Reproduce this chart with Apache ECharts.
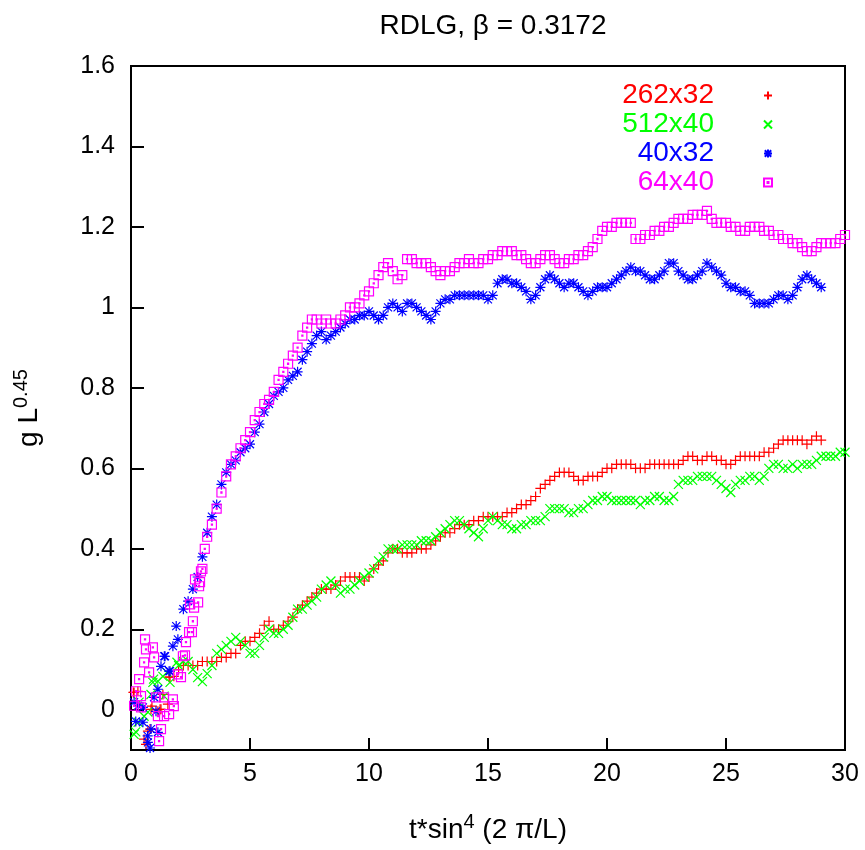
<!DOCTYPE html>
<html>
<head>
<meta charset="utf-8">
<script src="https://cdn.jsdelivr.net/npm/echarts@6/dist/echarts.min.js"></script>
<style>html,body{margin:0;padding:0;background:#fff}#c{width:865px;height:850px}</style>
</head>
<body>
<div id="c"></div>
<script>
// Series names (legend)
const seriesNames = ['262x32', '512x40', '40x32', '64x40'];

// Y tick labels / X tick labels
const yTicks = [0, 0.2, 0.4, 0.6, 0.8, 1, 1.2, 1.4, 1.6];
const xTicks = [0, 5, 10, 15, 20, 25, 30];

// 262x32 (red +) : [t, g L^0.45]
const red262x32 = [
[0.1,0.043],[0.13,0.043],[0.29,0.046],[0.55,-0.073],[0.63,-0.086],[0.71,-0.053],[0.8,-0.048],[0.84,0.001],[0.88,0.009],[1.13,-0.004],[1.22,0.001],[1.26,0.001],[1.34,0.038],[1.55,0.014],[1.6,0.081],[1.64,0.081],[1.8,0.083],
[2.0,0.10],[2.2,0.11],[2.4,0.11],[2.6,0.11],[2.8,0.11],[3.0,0.12],[3.2,0.12],[3.4,0.12],[3.6,0.12],[3.8,0.13],
[4.0,0.13],[4.2,0.14],[4.4,0.14],[4.6,0.16],[4.8,0.17],[5.0,0.17],[5.2,0.18],[5.4,0.19],[5.6,0.21],[5.8,0.22],
[6.0,0.20],[6.2,0.20],[6.4,0.21],[6.6,0.22],[6.8,0.23],[7.0,0.25],[7.2,0.26],[7.4,0.27],[7.6,0.28],[7.8,0.29],
[8.0,0.30],[8.2,0.30],[8.4,0.30],[8.6,0.31],[8.8,0.32],[9.0,0.33],[9.2,0.33],[9.4,0.33],[9.6,0.33],[9.8,0.32],
[10.0,0.33],[10.2,0.35],[10.4,0.36],[10.6,0.37],[10.8,0.39],[11.0,0.40],[11.2,0.40],[11.4,0.39],[11.6,0.39],[11.8,0.39],
[12.0,0.40],[12.2,0.40],[12.4,0.40],[12.6,0.41],[12.8,0.42],[13.0,0.43],[13.2,0.44],[13.4,0.44],[13.6,0.45],[13.8,0.46],
[14.0,0.46],[14.2,0.46],[14.4,0.47],[14.6,0.47],[14.8,0.48],[15.0,0.48],[15.2,0.48],[15.4,0.48],[15.6,0.48],[15.8,0.49],
[16.0,0.49],[16.2,0.50],[16.4,0.51],[16.6,0.51],[16.8,0.52],[17.0,0.53],[17.2,0.55],[17.4,0.56],[17.6,0.57],[17.8,0.58],
[18.0,0.59],[18.2,0.59],[18.4,0.59],[18.6,0.58],[18.8,0.57],[19.0,0.57],[19.2,0.58],[19.4,0.58],[19.6,0.58],[19.8,0.59],
[20.0,0.60],[20.2,0.60],[20.4,0.61],[20.6,0.61],[20.8,0.61],[21.0,0.61],[21.2,0.60],[21.4,0.60],[21.6,0.60],[21.8,0.61],
[22.0,0.61],[22.2,0.61],[22.4,0.61],[22.6,0.61],[22.8,0.61],[23.0,0.61],[23.2,0.62],[23.4,0.63],[23.6,0.63],[23.8,0.62],
[24.0,0.62],[24.2,0.63],[24.4,0.63],[24.6,0.62],[24.8,0.62],[25.0,0.61],[25.2,0.61],[25.4,0.62],[25.6,0.63],[25.8,0.63],
[26.0,0.63],[26.2,0.63],[26.4,0.63],[26.6,0.64],[26.8,0.64],[27.0,0.65],[27.2,0.66],[27.4,0.67],[27.6,0.67],[27.8,0.67],
[28.0,0.67],[28.2,0.67],[28.4,0.66],[28.6,0.67],[28.8,0.68],[29.0,0.67]
];

// 512x40 (green x)
const green512x40 = [
[0.13,-0.061],[0.2,-0.055],[0.3,-0.031],[0.34,0.019],[0.55,-0.016],[0.71,-0.006],[0.84,0.038],[0.92,0.068],[0.95,0.076],[1.13,0.071],[1.34,0.083],[1.39,0.034],[1.51,0.093],[1.64,0.068],[1.93,0.118],
[2.0,0.11],[2.2,0.12],[2.4,0.12],[2.6,0.10],[2.8,0.08],[3.0,0.07],[3.2,0.09],[3.4,0.11],[3.6,0.14],[3.8,0.15],
[4.0,0.16],[4.2,0.17],[4.4,0.18],[4.6,0.17],[4.8,0.16],[5.0,0.14],[5.2,0.14],[5.4,0.16],[5.6,0.18],[5.8,0.20],
[6.0,0.19],[6.2,0.19],[6.4,0.20],[6.6,0.21],[6.8,0.23],[7.0,0.25],[7.2,0.25],[7.4,0.26],[7.6,0.27],[7.8,0.28],
[8.0,0.30],[8.2,0.31],[8.4,0.32],[8.6,0.31],[8.8,0.29],[9.0,0.30],[9.2,0.30],[9.4,0.31],[9.6,0.32],[9.8,0.33],
[10.0,0.34],[10.2,0.35],[10.4,0.37],[10.6,0.38],[10.8,0.40],[11.0,0.40],[11.2,0.40],[11.4,0.41],[11.6,0.41],[11.8,0.41],
[12.0,0.41],[12.2,0.42],[12.4,0.42],[12.6,0.42],[12.8,0.43],[13.0,0.44],[13.2,0.45],[13.4,0.46],[13.6,0.47],[13.8,0.47],
[14.0,0.46],[14.2,0.45],[14.4,0.44],[14.6,0.43],[14.8,0.45],[15.0,0.47],[15.2,0.48],[15.4,0.47],[15.6,0.46],[15.8,0.46],
[16.0,0.45],[16.2,0.45],[16.4,0.46],[16.6,0.46],[16.8,0.47],[17.0,0.47],[17.2,0.47],[17.4,0.48],[17.6,0.50],[17.8,0.50],
[18.0,0.50],[18.2,0.50],[18.4,0.49],[18.6,0.49],[18.8,0.50],[19.0,0.50],[19.2,0.51],[19.4,0.52],[19.6,0.52],[19.8,0.53],
[20.0,0.53],[20.2,0.52],[20.4,0.52],[20.6,0.52],[20.8,0.52],[21.0,0.52],[21.2,0.52],[21.4,0.51],[21.6,0.52],[21.8,0.52],
[22.0,0.53],[22.2,0.53],[22.4,0.52],[22.6,0.52],[22.8,0.53],[23.0,0.56],[23.2,0.57],[23.4,0.57],[23.6,0.57],[23.8,0.58],
[24.0,0.58],[24.2,0.58],[24.4,0.58],[24.6,0.57],[24.8,0.56],[25.0,0.55],[25.2,0.54],[25.4,0.56],[25.6,0.57],[25.8,0.57],
[26.0,0.58],[26.2,0.58],[26.4,0.57],[26.6,0.58],[26.8,0.60],[27.0,0.61],[27.2,0.61],[27.4,0.60],[27.6,0.60],[27.8,0.61],
[28.0,0.60],[28.2,0.61],[28.4,0.61],[28.6,0.61],[28.8,0.62],[29.0,0.63],[29.2,0.63],[29.4,0.63],[29.6,0.63],[29.8,0.64],
[30.0,0.64]
];

// 40x32 (blue *)
const blue40x32 = [
[0.13,0.019],[0.2,-0.029],[0.3,0.01],[0.5,0.006],[0.5,-0.031],[0.7,-0.065],[0.71,-0.081],[0.8,-0.095],[0.84,-0.048],[0.97,0.031],[1.05,-0.004],[1.13,0.051],[1.13,-0.056],[1.26,0.108],[1.4,0.133],[1.43,0.133],[1.6,0.096],[1.64,0.096],[1.76,0.158],[1.9,0.208],[1.97,0.175],
[2.2,0.25],[2.4,0.27],[2.6,0.30],[2.8,0.33],[3.0,0.38],[3.2,0.44],[3.4,0.48],[3.6,0.51],[3.8,0.56],
[4.0,0.59],[4.2,0.61],[4.4,0.62],[4.6,0.64],[4.8,0.65],[5.0,0.66],[5.2,0.69],[5.4,0.71],[5.6,0.74],[5.8,0.76],
[6.0,0.78],[6.2,0.79],[6.4,0.80],[6.6,0.82],[6.8,0.83],[7.0,0.84],[7.2,0.87],[7.4,0.89],[7.6,0.91],[7.8,0.93],
[8.0,0.94],[8.2,0.92],[8.4,0.93],[8.6,0.94],[8.8,0.95],[9.0,0.96],[9.2,0.97],[9.4,0.97],[9.6,0.98],[9.8,0.98],
[10.0,0.99],[10.2,0.98],[10.4,0.97],[10.6,0.98],[10.8,1.00],[11.0,1.01],[11.2,1.00],[11.4,0.99],[11.6,1.01],[11.8,1.01],
[12.0,1.00],[12.2,0.99],[12.4,0.98],[12.6,0.97],[12.8,0.99],[13.0,1.01],[13.2,1.02],[13.4,1.02],[13.6,1.03],[13.8,1.03],
[14.0,1.03],[14.2,1.03],[14.4,1.03],[14.6,1.03],[14.8,1.03],[15.0,1.02],[15.2,1.03],[15.4,1.06],[15.6,1.07],[15.8,1.07],
[16.0,1.06],[16.2,1.06],[16.4,1.05],[16.6,1.04],[16.8,1.02],[17.0,1.03],[17.2,1.05],[17.4,1.07],[17.6,1.08],[17.8,1.07],
[18.0,1.06],[18.2,1.05],[18.4,1.06],[18.6,1.06],[18.8,1.05],[19.0,1.04],[19.2,1.03],[19.4,1.04],[19.6,1.05],[19.8,1.05],
[20.0,1.05],[20.2,1.06],[20.4,1.07],[20.6,1.08],[20.8,1.09],[21.0,1.10],[21.2,1.09],[21.4,1.09],[21.6,1.08],[21.8,1.07],
[22.0,1.07],[22.2,1.08],[22.4,1.09],[22.6,1.11],[22.8,1.11],[23.0,1.09],[23.2,1.08],[23.4,1.07],[23.6,1.07],[23.8,1.08],
[24.0,1.09],[24.2,1.11],[24.4,1.10],[24.6,1.09],[24.8,1.08],[25.0,1.06],[25.2,1.05],[25.4,1.05],[25.6,1.04],[25.8,1.04],
[26.0,1.03],[26.2,1.01],[26.4,1.01],[26.6,1.01],[26.8,1.01],[27.0,1.02],[27.2,1.03],[27.4,1.03],[27.6,1.02],[27.8,1.03],
[28.0,1.05],[28.2,1.07],[28.4,1.08],[28.6,1.07],[28.8,1.06],[29.0,1.05]
];

// 64x40 (magenta boxes)
const magenta64x40 = [
[0.13,0.01],[0.21,0.046],[0.34,0.076],[0.42,0.034],[0.42,0.006],[0.55,0.118],[0.59,0.175],[0.63,0.15],[0.76,0.093],[0.92,0.155],[0.97,0.13],[1.05,0.031],[1.13,-0.016],[1.18,-0.078],[1.26,-0.048],[1.39,0.031],[1.39,-0.016],[1.6,-0.011],[1.76,0.026],[1.8,0.009],[1.97,0.088],[2.1,0.081],[2.18,0.133],[2.27,0.135],[2.31,0.168],[2.44,0.193],[2.48,0.262],[2.56,0.193],[2.6,0.22],[2.65,0.254],[2.69,0.324],[2.82,0.267],[2.86,0.307],[2.9,0.317],[2.94,0.344],
[3.0,0.35],[3.1,0.40],[3.2,0.43],[3.4,0.46],[3.6,0.50],[3.8,0.54],
[4.0,0.58],[4.2,0.61],[4.4,0.63],[4.6,0.65],[4.8,0.67],[5.0,0.69],[5.2,0.72],[5.4,0.74],[5.6,0.76],[5.8,0.77],
[6.0,0.79],[6.2,0.82],[6.4,0.84],[6.6,0.86],[6.8,0.88],[7.0,0.90],[7.2,0.93],[7.4,0.95],[7.6,0.97],[7.8,0.97],
[8.0,0.96],[8.2,0.97],[8.4,0.96],[8.6,0.96],[8.8,0.97],[9.0,0.98],[9.2,1.00],[9.4,1.00],[9.6,1.01],[9.8,1.03],
[10.0,1.04],[10.2,1.06],[10.4,1.08],[10.6,1.10],[10.8,1.11],[11.0,1.09],[11.2,1.07],[11.4,1.08],[11.6,1.12],[11.8,1.12],
[12.0,1.11],[12.2,1.11],[12.4,1.11],[12.6,1.10],[12.8,1.09],[13.0,1.08],[13.2,1.09],[13.4,1.09],[13.6,1.10],[13.8,1.11],
[14.0,1.11],[14.2,1.12],[14.4,1.11],[14.6,1.11],[14.8,1.12],[15.0,1.12],[15.2,1.13],[15.4,1.13],[15.6,1.14],[15.8,1.14],
[16.0,1.14],[16.2,1.13],[16.4,1.13],[16.6,1.12],[16.8,1.11],[17.0,1.11],[17.2,1.12],[17.4,1.13],[17.6,1.13],[17.8,1.12],
[18.0,1.11],[18.2,1.11],[18.4,1.12],[18.6,1.12],[18.8,1.13],[19.0,1.13],[19.2,1.14],[19.4,1.15],[19.6,1.17],[19.8,1.19],
[20.0,1.20],[20.2,1.20],[20.4,1.21],[20.6,1.21],[20.8,1.21],[21.0,1.21],[21.2,1.17],[21.4,1.17],[21.6,1.18],[21.8,1.18],
[22.0,1.19],[22.2,1.19],[22.4,1.20],[22.6,1.20],[22.8,1.21],[23.0,1.22],[23.2,1.22],[23.4,1.22],[23.6,1.23],[23.8,1.23],
[24.0,1.23],[24.2,1.24],[24.4,1.22],[24.6,1.21],[24.8,1.21],[25.0,1.21],[25.2,1.20],[25.4,1.20],[25.6,1.19],[25.8,1.19],
[26.0,1.20],[26.2,1.20],[26.4,1.20],[26.6,1.19],[26.8,1.19],[27.0,1.18],[27.2,1.18],[27.4,1.17],[27.6,1.17],[27.8,1.16],
[28.0,1.16],[28.2,1.15],[28.4,1.14],[28.6,1.14],[28.8,1.15],[29.0,1.16],[29.2,1.16],[29.4,1.16],[29.6,1.16],[29.8,1.17],
[30.0,1.18]
];

const FONT = 'Liberation Sans, Arial, Helvetica, sans-serif';
const FS = 25;
const FS_BIG = 28;

const symPlus = 'path://M-1,0L1,0M0,-1L0,1';
const symCross = 'path://M-1,-1L1,1M-1,1L1,-1';
const symStar = 'path://M-1,0L1,0M0,-1L0,1M-0.8,-0.8L0.8,0.8M-0.8,0.8L0.8,-0.8';
const symBox = 'path://M-1,-1L1,-1L1,1L-1,1ZM-0.12,-0.12L0.12,-0.12L0.12,0.12L-0.12,0.12Z';

const colors = ['#ff0000', '#00ff00', '#0000ff', '#ff00ff'];
const symbols = [symPlus, symCross, symStar, symBox];
const dataSets = [red262x32, green512x40, blue40x32, magenta64x40];
const sizes = [10, 9, 10, 9];

const chart = echarts.init(document.getElementById('c'), null, {renderer: 'canvas'});

const series = seriesNames.map((n, i) => ({
  name: n,
  type: 'scatter',
  data: dataSets[i],
  symbol: symbols[i],
  symbolSize: sizes[i],
  silent: true,
  itemStyle: {color: 'rgba(0,0,0,0)', borderColor: colors[i], borderWidth: 1.2, opacity: 1},
  emphasis: {disabled: true},
  z: 2 + i
}));

chart.setOption({
  animation: false,
  backgroundColor: '#fff',
  title: {
    text: 'RDLG, β = 0.3172',
    left: 488,
    textAlign: 'center',
    top: 7,
    textStyle: {fontFamily: FONT, fontSize: FS_BIG, fontWeight: 'normal', color: '#000'}
  },
  legend: {
    orient: 'vertical',
    align: 'right',
    right: 87,
    top: 76,
    itemWidth: 8,
    itemHeight: 8,
    itemGap: 0,
    selectedMode: false,
    data: seriesNames.map((n, i) => ({name: n, textStyle: {color: colors[i]}})),
    textStyle: {fontFamily: FONT, fontSize: FS_BIG, lineHeight: 29, padding: [0, 45, 0, 0]}
  },
  grid: {left: 131, right: 20, top: 66, bottom: 100, show: true, borderColor: '#000', borderWidth: 2, containLabel: false, outerBoundsMode: 'none'},
  xAxis: {
    type: 'value',
    min: 0, max: 30, interval: 5,
    name: '{a|t*sin}{s|4}{a| (2 π/L)}',
    nameLocation: 'middle',
    nameGap: 62,
    nameTextStyle: {
      fontFamily: FONT, color: '#000',
      rich: {
        a: {fontFamily: FONT, fontSize: FS_BIG, color: '#000'},
        s: {fontFamily: FONT, fontSize: 20, color: '#000', padding: [0, 0, 16, 0]}
      }
    },
    axisLine: {show: true, onZero: false, lineStyle: {color: '#000', width: 2}},
    axisTick: {show: true, inside: true, length: 12, lineStyle: {color: '#000', width: 2}},
    axisLabel: {fontFamily: FONT, fontSize: FS, color: '#000', margin: 12},
    splitLine: {show: false}
  },
  yAxis: {
    type: 'value',
    min: -0.1, max: 1.6,
    name: '{a|g L}{s|0.45}',
    nameLocation: 'middle',
    nameGap: 84,
    nameRotate: 90,
    nameTextStyle: {
      fontFamily: FONT, color: '#000',
      rich: {
        a: {fontFamily: FONT, fontSize: FS_BIG, color: '#000'},
        s: {fontFamily: FONT, fontSize: 20, color: '#000', padding: [0, 0, 16, 0]}
      }
    },
    axisLine: {show: true, onZero: false, lineStyle: {color: '#000', width: 2}},
    axisTick: {show: true, inside: true, length: 13, customValues: yTicks, lineStyle: {color: '#000', width: 2}},
    axisLabel: {fontFamily: FONT, fontSize: FS, color: '#000', margin: 16, customValues: yTicks},
    splitLine: {show: false}
  },
  series: series
});
</script>
</body>
</html>
